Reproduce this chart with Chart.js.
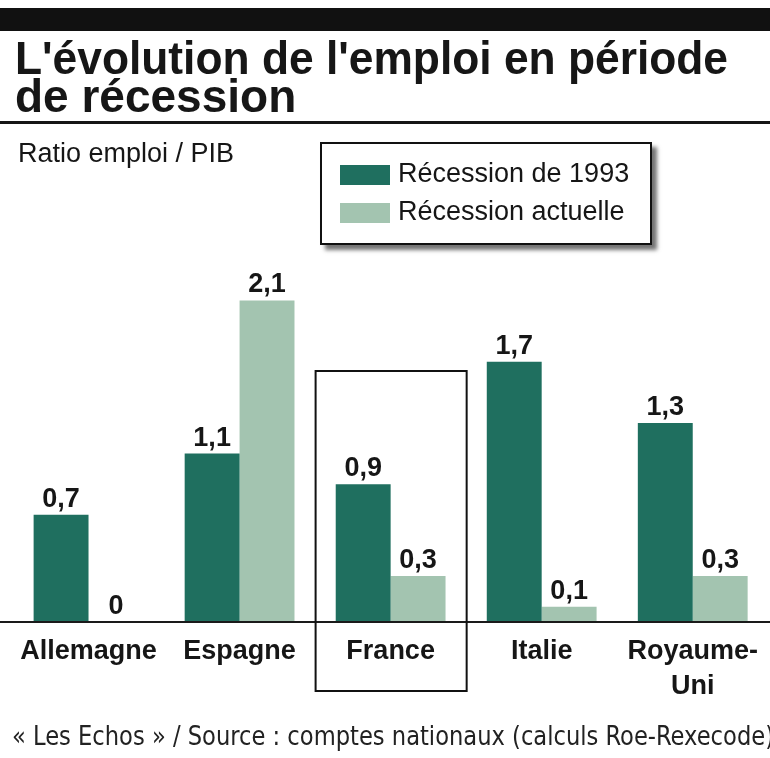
<!DOCTYPE html>
<html>
<head>
<meta charset="utf-8">
<script src="https://cdn.jsdelivr.net/npm/chart.js@4"></script>
<style>
  html, body { margin: 0; padding: 0; background: #fff; }
  #wrap { width: 770px; height: 758px; position: relative; }
</style>
</head>
<body>
<div id="wrap"><canvas id="chart"></canvas></div>
<script>
// ── Data ──
const countries = ['Allemagne', 'Espagne', 'France', 'Italie', ['Royaume-', 'Uni']];
const recession1993 = [0.7, 1.1, 0.9, 1.7, 1.3];
const recessionActuelle = [0, 2.1, 0.3, 0.1, 0.3];
const seriesNames = ['Récession de 1993', 'Récession actuelle'];

const titleLines = ["L'évolution de l'emploi en période", 'de récession'];
const unitLabel = 'Ratio emploi / PIB';
const sourceText = '« Les Echos » / Source : comptes nationaux (calculs Roe-Rexecode)';

const DARK = '#1f6f5f';
const LIGHT = '#a3c4b0';
const INK = '#161616';
const FONT = "'Liberation Sans', Arial, sans-serif";

// ── Decorations: header, legend, value labels, France box, footer ──
const decorations = {
  id: 'decorations',
  beforeDraw(chart) {
    const { ctx, width } = chart;
    ctx.save();
    // top black band
    ctx.fillStyle = '#111';
    ctx.fillRect(0, 8, width, 23);
    // title
    ctx.fillStyle = INK;
    ctx.font = `bold 46px ${FONT}`;
    ctx.textBaseline = 'alphabetic';
    ctx.textAlign = 'left';
    ctx.fillText(titleLines[0], 15, 74, 713);
    ctx.fillText(titleLines[1], 15, 112);
    // rule under title
    ctx.fillRect(0, 121, width, 3);
    // unit label
    ctx.font = `27px ${FONT}`;
    ctx.textBaseline = 'middle';
    ctx.fillText(unitLabel, 18, 155, 227);
    ctx.restore();
  },
  afterDatasetsDraw(chart) {
    const { ctx, width, scales } = chart;
    const x = scales.x, y = scales.y;
    ctx.save();
    // baseline
    const y0 = y.getPixelForValue(0);
    ctx.fillStyle = '#1a1a1a';
    ctx.fillRect(0, y0 - 1, width, 2);

    // value labels
    ctx.font = `bold 27px ${FONT}`;
    ctx.textAlign = 'center';
    ctx.textBaseline = 'alphabetic';
    ctx.fillStyle = INK;
    chart.data.datasets.forEach((ds, di) => {
      chart.getDatasetMeta(di).data.forEach((el, i) => {
        const txt = String(ds.data[i]).replace('.', ',');
        ctx.fillText(txt, el.x, el.y - 8);
      });
    });

    // box around France
    const fi = 2;
    const half = (x.getPixelForValue(1) - x.getPixelForValue(0)) / 2;
    const cx = x.getPixelForValue(fi);
    ctx.strokeStyle = '#111';
    ctx.lineWidth = 2;
    ctx.strokeRect(cx - half + 0.5, 371, half * 2, 320);

    // legend box with shadow
    ctx.save();
    ctx.shadowColor = 'rgba(0,0,0,0.55)';
    ctx.shadowBlur = 4;
    ctx.shadowOffsetX = 5;
    ctx.shadowOffsetY = 5;
    ctx.fillStyle = '#fff';
    ctx.fillRect(320, 142, 332, 103);
    ctx.restore();
    ctx.strokeStyle = '#111';
    ctx.lineWidth = 2;
    ctx.strokeRect(321, 143, 330, 101);
    ctx.font = `27px ${FONT}`;
    ctx.textAlign = 'left';
    ctx.textBaseline = 'middle';
    chart.data.datasets.forEach((ds, di) => {
      const ly = 175 + di * 38;
      ctx.fillStyle = ds.backgroundColor;
      ctx.fillRect(340, ly - 10, 50, 20);
      ctx.fillStyle = INK;
      ctx.fillText(ds.label, 398, ly, 236);
    });

    // footer
    ctx.font = `26px 'Liberation Sans Narrow', 'DejaVu Sans Condensed', ${FONT}`;
    ctx.fillStyle = '#222';
    ctx.fillText(sourceText, 12, 738, 762);
    ctx.restore();
  }
};

new Chart(document.getElementById('chart'), {
  type: 'bar',
  data: {
    labels: countries,
    datasets: [
      { label: seriesNames[0], data: recession1993, backgroundColor: DARK },
      { label: seriesNames[1], data: recessionActuelle, backgroundColor: LIGHT },
    ],
  },
  options: {
    responsive: true,
    maintainAspectRatio: false,
    animation: false,
    layout: { padding: { top: 132, left: 13, right: 0, bottom: 0 } },
    datasets: { bar: { categoryPercentage: 0.727, barPercentage: 1.0, borderWidth: 0 } },
    plugins: { legend: { display: false }, title: { display: false }, tooltip: { enabled: false } },
    scales: {
      x: {
        grid: { display: false, drawTicks: false },
        border: { display: false },
        ticks: { color: INK, padding: 12, font: { family: FONT, size: 27, weight: 'bold', lineHeight: 1.3 } },
        afterFit(scale) { scale.height = 136; },
      },
      y: { display: false, min: 0, max: 3.2 },
    },
  },
  plugins: [decorations],
});
</script>
</body>
</html>
